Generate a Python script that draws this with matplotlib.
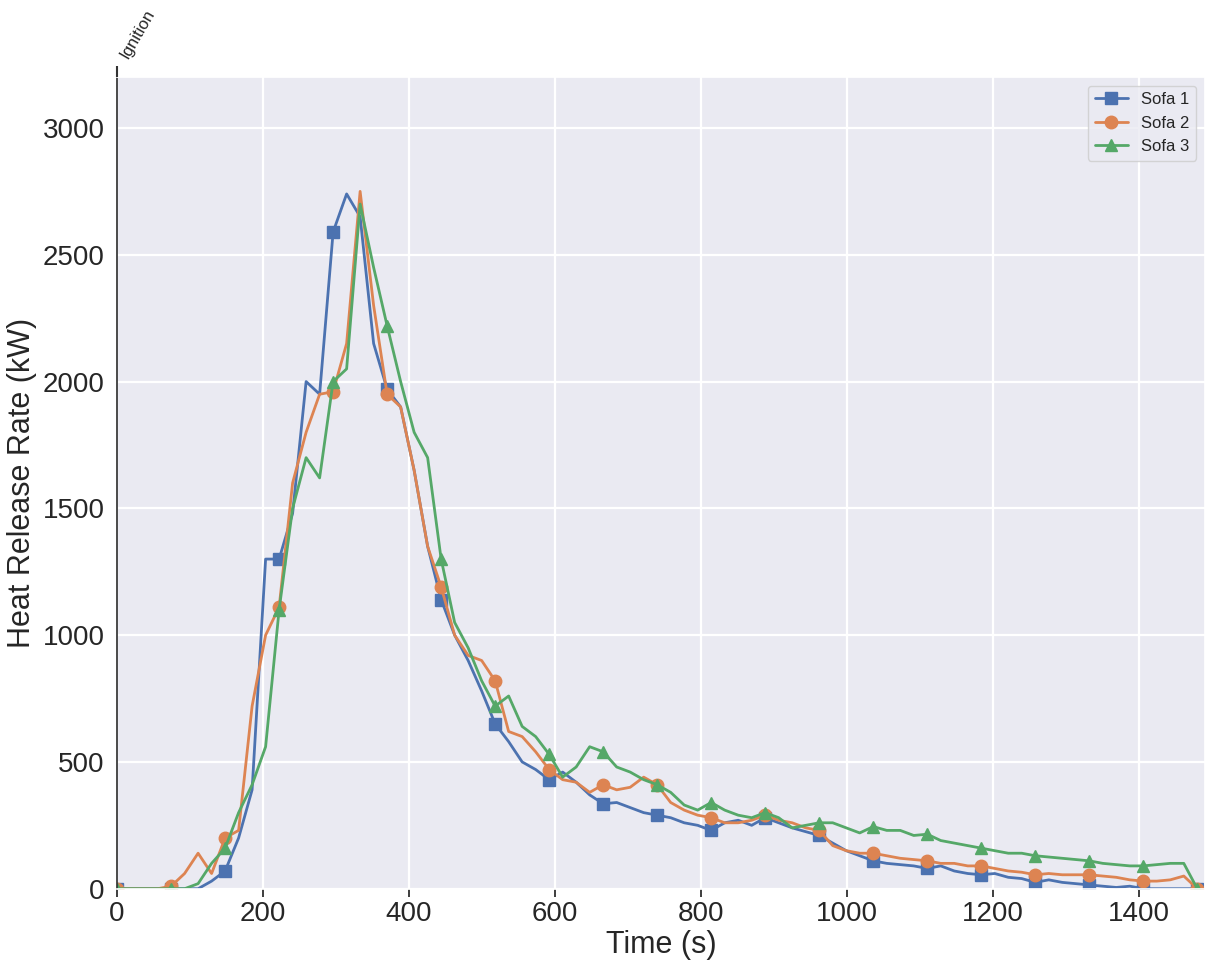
import matplotlib
matplotlib.use('Agg')
import matplotlib.pyplot as plt
import numpy as np
import seaborn as sns

# time grid (s), markers every 74 s
time = np.arange(81) * 18.5

sofa1 = [0, 0, 0, 0, 0, 0, 0, 30, 70, 200, 390, 1300, 1300, 1480, 2000, 1950, 2590, 2740, 2650, 2150,
         1970, 1900, 1650, 1350, 1140, 1000, 900, 780, 650, 580, 500, 470, 430, 460, 420, 370, 335, 340, 320, 300,
         290, 280, 260, 250, 230, 260, 270, 250, 280, 260, 240, 225, 210, 180, 150, 130, 110, 100, 95, 90,
         80, 90, 70, 60, 55, 60, 45, 40, 25, 35, 25, 20, 15, 10, 5, 10, 0, 0, 0, 0, 0]
sofa2 = [0, 0, 0, 0, 10, 60, 140, 60, 200, 230, 720, 1000, 1110, 1600, 1800, 1950, 1960, 2150, 2750, 2300,
         1950, 1900, 1650, 1350, 1190, 1000, 920, 900, 820, 620, 600, 540, 470, 430, 420, 380, 410, 390, 400, 440,
         410, 340, 310, 290, 280, 260, 260, 270, 290, 270, 260, 240, 230, 170, 150, 140, 140, 130, 120, 115,
         110, 100, 100, 90, 90, 80, 70, 65, 55, 60, 55, 55, 55, 50, 45, 35, 30, 30, 35, 50, 0]
sofa3 = [0, 0, 0, 0, 0, 0, 20, 100, 160, 300, 410, 560, 1100, 1500, 1700, 1620, 2000, 2050, 2700, 2450,
         2220, 2000, 1800, 1700, 1300, 1050, 950, 820, 720, 760, 640, 600, 530, 440, 480, 560, 540, 480, 460, 430,
         410, 380, 330, 310, 340, 310, 290, 280, 300, 280, 240, 250, 260, 260, 240, 220, 245, 230, 230, 210,
         215, 190, 180, 170, 160, 150, 140, 140, 130, 125, 120, 115, 110, 100, 95, 90, 90, 95, 100, 100, 0]

series = [('Sofa 1', sofa1, 's'), ('Sofa 2', sofa2, 'o'), ('Sofa 3', sofa3, '^')]

sns.set_theme(style='darkgrid')
plt.rcParams['font.family'] = ['Liberation Sans', 'DejaVu Sans']
plt.rcParams['grid.linewidth'] = 1.6
colors = sns.color_palette('deep')

fig, ax = plt.subplots(figsize=(12.07, 9.66), dpi=100)
for (label, vals, marker), c in zip(series, colors):
    ax.plot(time, vals, color=c, marker=marker, markevery=4, markersize=9,
            linewidth=2, label=label)

ax.set_xlim(0, 1490)
ax.set_ylim(0, 3200)
ax.set_xlabel('Time (s)', fontsize=22, labelpad=2)
ax.set_ylabel('Heat Release Rate (kW)', fontsize=22)
ax.tick_params(labelsize=20, pad=3)
ax.spines['left'].set_visible(True)
ax.spines['left'].set_color('#333333')
ax.legend(loc='upper right', fontsize=12, frameon=True, facecolor='#eaeaf2',
          edgecolor='#cccccc')

top = ax.twiny()
top.set_xlim(ax.get_xlim())
top.set_xticks([0])
top.set_xticklabels(['Ignition'], rotation=60, ha='left', fontsize=12)
top.tick_params(axis='x', length=8, width=1.5, color='#333333', direction='out')
top.grid(False)
for s in top.spines.values():
    s.set_visible(False)

fig.subplots_adjust(left=0.097, right=0.998, bottom=0.08, top=0.92)
fig.savefig('out.png', dpi=100)
